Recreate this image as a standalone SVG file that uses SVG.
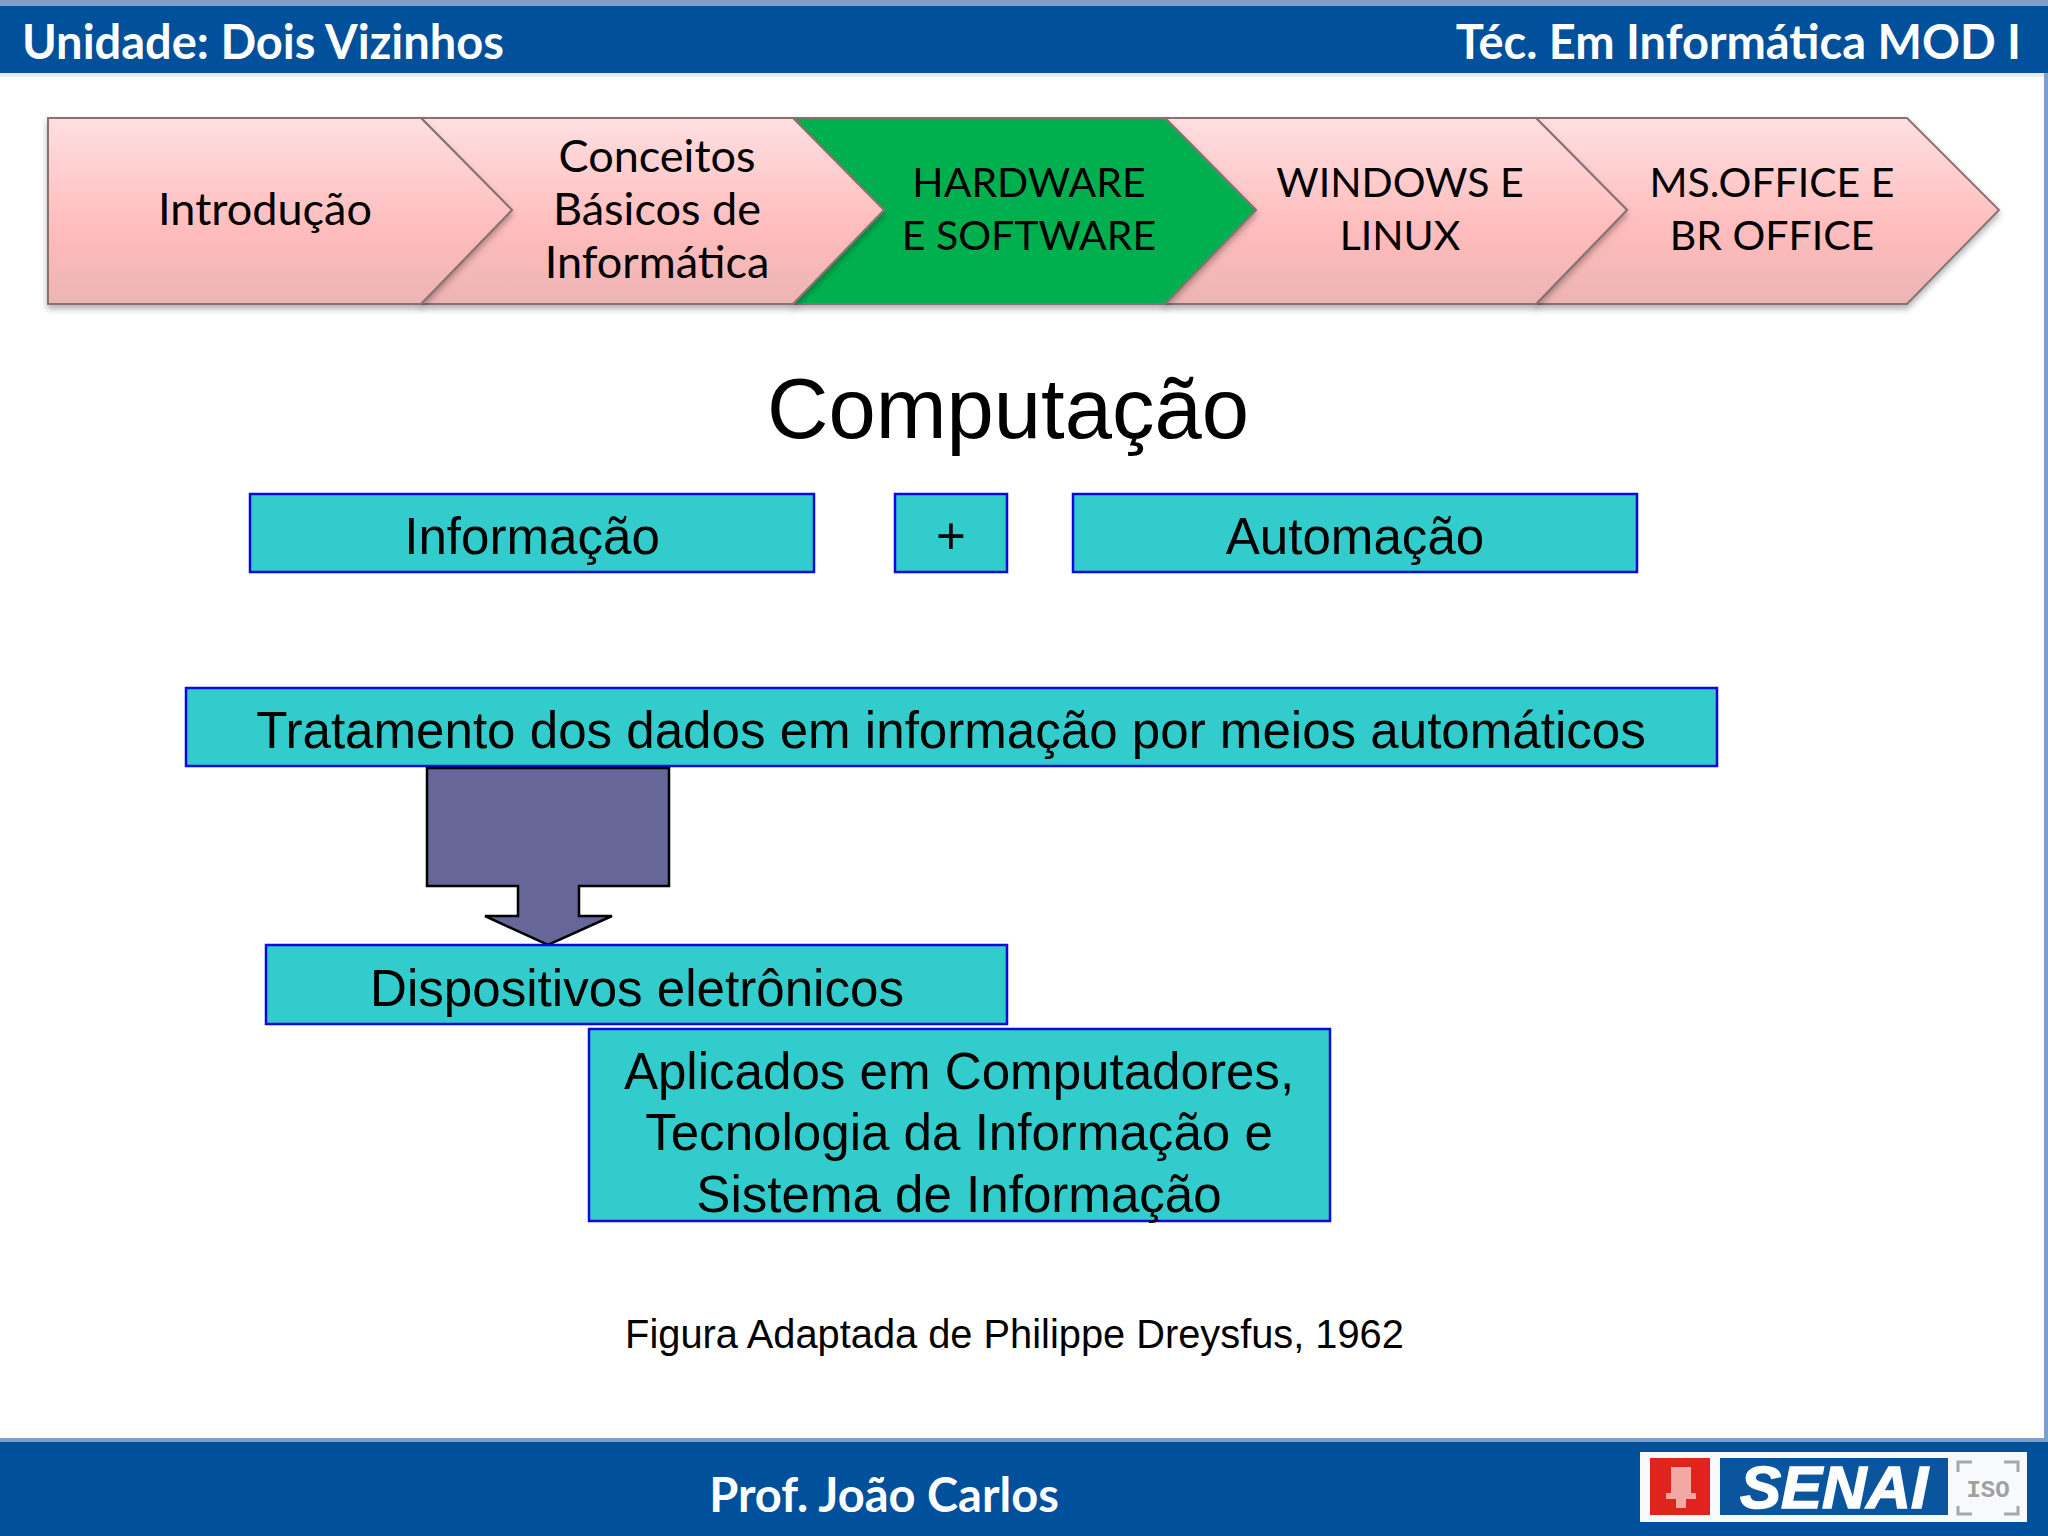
<svg xmlns="http://www.w3.org/2000/svg" width="2048" height="1536" viewBox="0 0 2048 1536">
<style>
.bar{fill:#00509b}
.edge{fill:#7f9fcb}
.h{font-family:"Lato","Open Sans",sans-serif;font-weight:700;font-size:47px;fill:#fff}
.c{font-family:"Lato","Open Sans",sans-serif;font-size:41px;fill:#000;text-anchor:middle}
.l{font-size:45px}
.chev{stroke:#8a7272;stroke-width:2;filter:url(#sh)}
.pink{fill:url(#pk)}
.box{fill:#33cccc;stroke:#0a0ae0;stroke-width:2.5}
.t{font-family:"Liberation Sans",Arial,sans-serif;font-size:51.1px;fill:#000;text-anchor:middle}
</style>
<defs>
<linearGradient id="pk" x1="0" y1="0" x2="0" y2="1">
<stop offset="0" stop-color="#ffdfe1"/><stop offset="0.6" stop-color="#ffbcbc"/><stop offset="1" stop-color="#edb4b4"/>
</linearGradient>
<filter id="sh" x="-5%" y="-5%" width="110%" height="115%">
<feDropShadow dx="0" dy="4" stdDeviation="3" flood-color="#000" flood-opacity="0.3"/>
</filter>
</defs>
<rect width="2048" height="1536" fill="#fff"/>
<rect class="edge" x="2044" y="0" width="4" height="1536"/>
<g id="header">
<rect class="edge" x="0" y="0" width="2048" height="6"/>
<rect class="bar" x="0" y="6" width="2048" height="67"/>
<rect x="0" y="73" width="2044" height="4" fill="#e2eff5"/>
<text class="h" x="22" y="59">Unidade: Dois Vizinhos</text>
<text class="h" x="2021" y="59" text-anchor="end">Téc. Em Informática MOD I</text>
</g>
<g id="step5"><polygon class="chev pink" points="1536,118 1907,118 1999,210 1907,304 1536,304 1627,210"/>
<text class="c" x="1772" y="197">MS.OFFICE E</text><text class="c" x="1772" y="250">BR OFFICE</text></g>
<g id="step4"><polygon class="chev pink" points="1165,118 1536,118 1627,210 1536,304 1165,304 1256,210"/>
<text class="c" x="1400" y="197">WINDOWS E</text><text class="c" x="1400" y="250">LINUX</text></g>
<g id="step3"><polygon class="chev" fill="#00b050" stroke="#00a04a" points="793,118 1165,118 1256,210 1165,304 793,304 884,210"/>
<text class="c" x="1029" y="197">HARDWARE</text><text class="c" x="1029" y="250">E SOFTWARE</text></g>
<g id="step2"><polygon class="chev pink" points="421,118 793,118 884,210 793,304 421,304 512,210"/>
<text class="c l" x="657" y="172">Conceitos</text><text class="c l" x="657" y="225">Básicos de</text><text class="c l" x="657" y="278">Informática</text></g>
<g id="step1"><polygon class="chev pink" points="48,118 421,118 512,210 421,304 48,304"/>
<text class="c l" x="265" y="225">Introdução</text></g>
<text id="title" x="1008" y="438" font-family="Liberation Sans, Arial, sans-serif" font-size="85" text-anchor="middle">Computação</text>
<g id="informacao"><rect class="box" x="250" y="494" width="564" height="78"/><text class="t" x="532" y="554">Informação</text></g>
<g id="plus"><rect class="box" x="895" y="494" width="112" height="78"/><text class="t" x="951" y="554">+</text></g>
<g id="automacao"><rect class="box" x="1073" y="494" width="564" height="78"/><text class="t" x="1355" y="554">Automação</text></g>
<g id="tratamento"><rect class="box" x="186" y="688" width="1531" height="78"/><text class="t" x="951" y="748">Tratamento dos dados em informação por meios automáticos</text></g>
<g id="connectors"><polygon points="427,768 669,768 669,886 579,886 579,916 612,916 548,945 485,916 518,916 518,886 427,886" fill="#666699" stroke="#000" stroke-width="2.5"/></g>
<g id="dispositivos"><rect class="box" x="266" y="945" width="741" height="79"/><text class="t" x="637" y="1006">Dispositivos eletrônicos</text></g>
<g id="aplicados"><rect class="box" x="589" y="1029" width="741" height="192"/>
<text class="t" x="959" y="1089">Aplicados em Computadores,</text><text class="t" x="959" y="1150">Tecnologia da Informação e</text><text class="t" x="959" y="1212">Sistema de Informação</text></g>
<text id="caption" x="1014.5" y="1348" font-family="Liberation Sans, Arial, sans-serif" font-size="39.8" text-anchor="middle">Figura Adaptada de Philippe Dreysfus, 1962</text>
<g id="footer">
<rect class="edge" x="0" y="1438" width="2048" height="4"/>
<rect class="bar" x="0" y="1442" width="2048" height="94"/>
<text class="h" x="884" y="1512" text-anchor="middle">Prof. João Carlos</text>
</g>
<g id="logo">
<rect x="1640" y="1452" width="387" height="70" fill="#f7f9fc"/>
<rect x="1650" y="1458" width="60" height="57" fill="#e0231c"/>
<g fill="#f2a9a3"><rect x="1671" y="1467" width="20" height="26"/><rect x="1666" y="1493" width="30" height="6"/><rect x="1676" y="1499" width="10" height="9"/></g>
<rect x="1720" y="1458" width="228" height="57" fill="#0b559f"/>
<text x="1834" y="1508" font-family="Liberation Sans, Arial, sans-serif" font-weight="700" font-style="italic" font-size="60" fill="#fff" stroke="#fff" stroke-width="1.5" text-anchor="middle" textLength="188" lengthAdjust="spacingAndGlyphs">SENAI</text>
<text x="1988" y="1497" font-family="Liberation Mono, monospace" font-weight="700" font-size="24" fill="#a0a0a0" text-anchor="middle">ISO</text>
<path d="M1958 1472v-10h14M2018 1472v-10h-14M1958 1506v8h14M2018 1506v8h-14" fill="none" stroke="#a8a8a8" stroke-width="3"/>
</g>
</svg>
